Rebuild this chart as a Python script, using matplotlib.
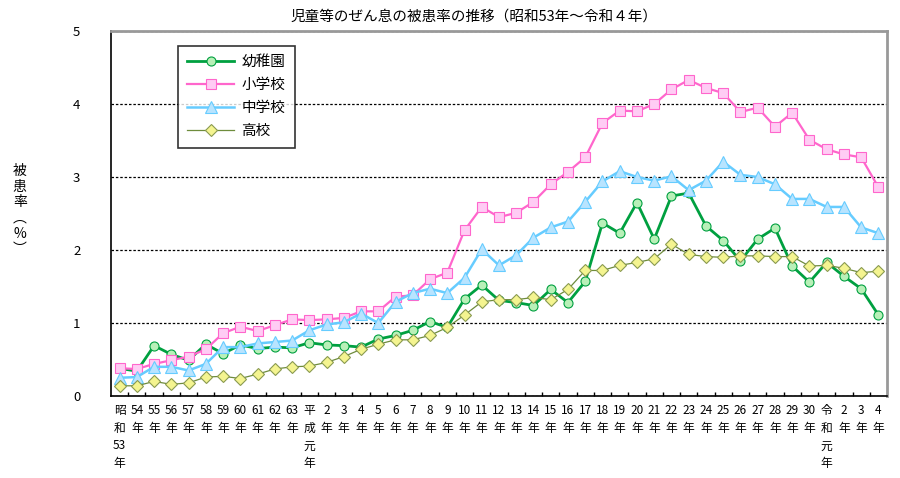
import matplotlib
matplotlib.use("Agg")
from matplotlib import pyplot as plt
import numpy as np

plt.rcParams['font.family'] = ['Noto Sans CJK JP', 'DejaVu Sans']

# 年次ラベル（昭和53年～令和4年）
yearLabels = (["昭\n和\n53\n年"] + [str(y) + "\n年" for y in range(54, 64)]
              + ["平\n成\n元\n年"] + [str(y) + "\n年" for y in range(2, 31)]
              + ["令\n和\n元\n年"] + [str(y) + "\n年" for y in range(2, 5)])

seriesNames = ["幼稚園", "小学校", "中学校", "高校"]

kindergarten = [0.38, 0.34, 0.69, 0.57, 0.49, 0.71, 0.58, 0.70, 0.65, 0.67,
                0.66, 0.73, 0.70, 0.69, 0.67, 0.78, 0.83, 0.90, 1.02, 0.94,
                1.33, 1.52, 1.31, 1.28, 1.24, 1.46, 1.28, 1.57, 2.37, 2.23,
                2.65, 2.15, 2.74, 2.78, 2.33, 2.13, 1.85, 2.15, 2.30, 1.78,
                1.56, 1.83, 1.64, 1.47, 1.11]
elementary = [0.38, 0.37, 0.44, 0.49, 0.54, 0.64, 0.86, 0.95, 0.89, 0.97,
              1.05, 1.04, 1.05, 1.07, 1.16, 1.16, 1.36, 1.38, 1.60, 1.69,
              2.27, 2.59, 2.45, 2.51, 2.66, 2.90, 3.07, 3.27, 3.74, 3.91,
              3.90, 4.00, 4.20, 4.33, 4.22, 4.15, 3.89, 3.95, 3.69, 3.88,
              3.51, 3.38, 3.31, 3.27, 2.86]
juniorHigh = [0.25, 0.26, 0.40, 0.40, 0.35, 0.44, 0.67, 0.67, 0.72, 0.74,
              0.76, 0.90, 0.98, 1.01, 1.13, 1.00, 1.29, 1.41, 1.47, 1.41,
              1.62, 2.01, 1.79, 1.93, 2.17, 2.31, 2.39, 2.66, 2.94, 3.08,
              3.00, 2.95, 3.01, 2.82, 2.95, 3.21, 3.03, 3.00, 2.90, 2.70,
              2.70, 2.59, 2.59, 2.31, 2.23]
highSchool = [0.14, 0.14, 0.20, 0.16, 0.18, 0.26, 0.27, 0.24, 0.30, 0.37,
              0.40, 0.41, 0.46, 0.54, 0.64, 0.71, 0.77, 0.77, 0.83, 0.94,
              1.11, 1.29, 1.32, 1.32, 1.35, 1.32, 1.46, 1.72, 1.72, 1.79,
              1.83, 1.88, 2.08, 1.94, 1.91, 1.90, 1.92, 1.92, 1.91, 1.91,
              1.78, 1.79, 1.75, 1.69, 1.71]

x = np.arange(len(yearLabels))

fig = plt.figure(figsize=(9, 4.78), dpi=100)
ax = fig.add_axes([0.1233, 0.1715, 0.8623, 0.7636])

ax.plot(x, kindergarten, color="#00A040", lw=2, marker="o", ms=6.5,
        mfc="#B8F0B8", mec="#00A040", mew=0.8, label=seriesNames[0])
ax.plot(x, elementary, color="#FF66CC", lw=1.6, marker="s", ms=7,
        mfc="#FFCCF4", mec="#FF66CC", mew=0.8, label=seriesNames[1])
ax.plot(x, juniorHigh, color="#66CCFF", lw=1.8, marker="^", ms=8,
        mfc="#B8E4FF", mec="#66CCFF", mew=0.8, label=seriesNames[2])
ax.plot(x, highSchool, color="#6E8C3C", lw=0.9, marker="D", ms=6,
        mfc="#F4F490", mec="#8A9A50", mew=0.8, label=seriesNames[3])

ax.set_xlim(-0.5, len(x) - 0.5)
ax.set_ylim(0, 5)
ax.set_yticks([0, 1, 2, 3, 4, 5])
ax.yaxis.grid(True, color="black", linestyle=(0, (2, 1.5)), lw=0.9)
ax.set_axisbelow(True)
ax.tick_params(axis="y", length=0, pad=22, labelsize=9.5)

ax.set_xticks(x)
ax.set_xticklabels(yearLabels, fontsize=8.5, linespacing=1.45, va="top")
ax.tick_params(axis="x", which="major", length=0, pad=6)
ax.set_xticks(x[:-1] + 0.5, minor=True)
ax.tick_params(axis="x", which="minor", direction="in", length=3, width=1, color="black")

for side in ["left", "bottom"]:
    ax.spines[side].set_color("black")
    ax.spines[side].set_linewidth(1.2)
for side in ["top", "right"]:
    ax.spines[side].set_color("#999999")
    ax.spines[side].set_linewidth(2)

leg = ax.legend(loc="upper left", bbox_to_anchor=(0.086, 0.96), fontsize=10.5,
                frameon=True, fancybox=False, edgecolor="black",
                handlelength=3.2, handletextpad=0.5, labelspacing=0.62,
                borderpad=0.65, borderaxespad=0)
leg.get_frame().set_linewidth(1.2)

fig.text(0.527, 0.965, "児童等のぜん息の被患率の推移（昭和53年～令和４年）",
         ha="center", va="center", fontsize=10.5)
fig.text(0.022, 0.56, "被\n患\n率\n︵\n%\n︶", ha="center", va="center",
         fontsize=10, linespacing=1.15)

fig.savefig("out.png", dpi=100)
